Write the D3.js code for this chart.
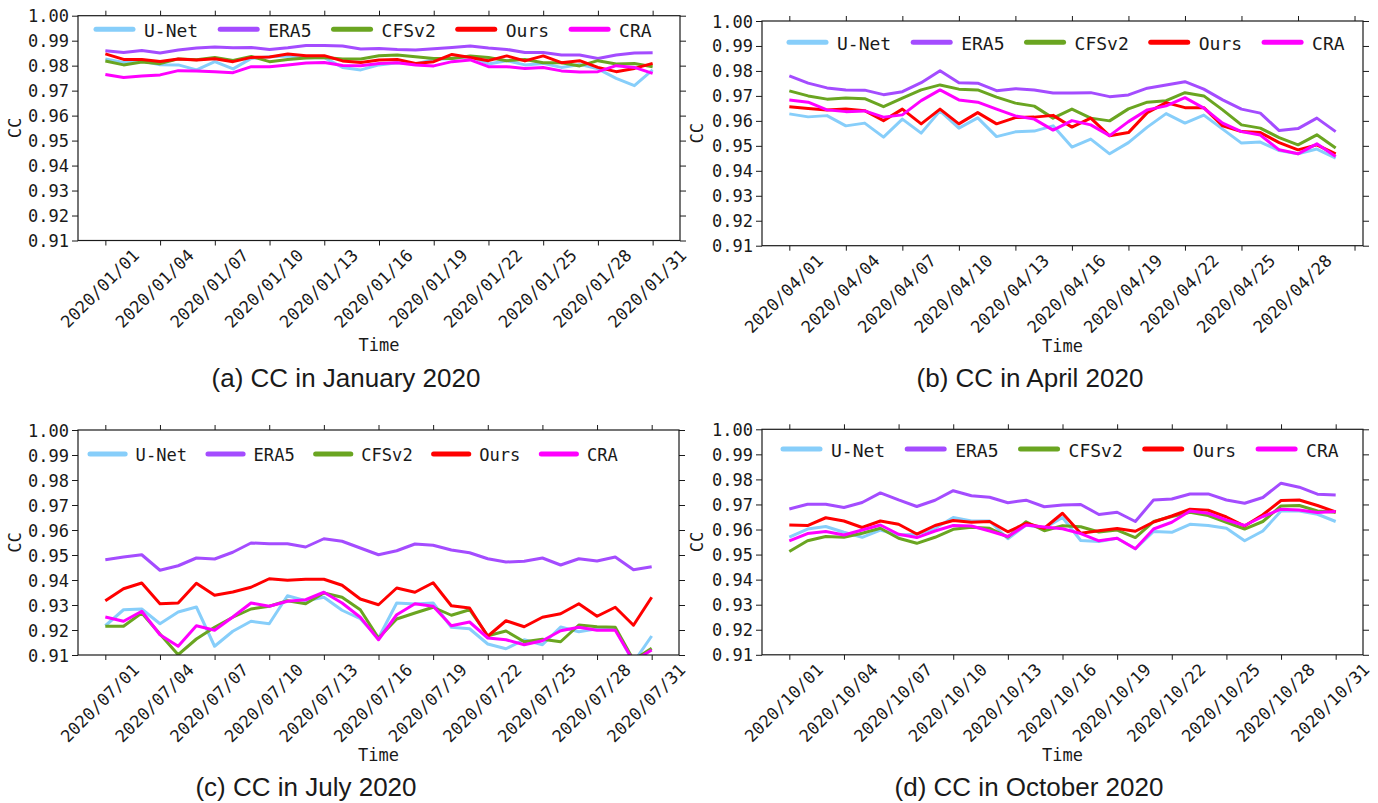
<!DOCTYPE html>
<html>
<head>
<meta charset="utf-8">
<script src="https://cdn.jsdelivr.net/npm/d3@7"></script>
<style>
  body { margin: 0; background: #fff; }
  svg { display: block; }
</style>
</head>
<body>
<svg id="chart" width="1378" height="803"></svg>
<script>
// ---- series metadata ----
const seriesNames  = ["U-Net", "ERA5", "CFSv2", "Ours", "CRA"];
const seriesColors = ["#87cefa", "#a44cff", "#6aa521", "#ff0000", "#ff00ff"];

// ---- shared y ticks ----
const yTicks = [0.91, 0.92, 0.93, 0.94, 0.95, 0.96, 0.97, 0.98, 0.99, 1.00];

// ---- x tick labels ----
const janTicks = ["2020/01/01","2020/01/04","2020/01/07","2020/01/10","2020/01/13","2020/01/16","2020/01/19","2020/01/22","2020/01/25","2020/01/28","2020/01/31"];
const aprTicks = ["2020/04/01","2020/04/04","2020/04/07","2020/04/10","2020/04/13","2020/04/16","2020/04/19","2020/04/22","2020/04/25","2020/04/28"];
const julTicks = ["2020/07/01","2020/07/04","2020/07/07","2020/07/10","2020/07/13","2020/07/16","2020/07/19","2020/07/22","2020/07/25","2020/07/28","2020/07/31"];
const octTicks = ["2020/10/01","2020/10/04","2020/10/07","2020/10/10","2020/10/13","2020/10/16","2020/10/19","2020/10/22","2020/10/25","2020/10/28","2020/10/31"];

// ---- January 2020 daily CC ----
const janUNet = [0.9827,0.9813,0.9819,0.9804,0.9803,0.9783,0.9816,0.9787,0.9829,0.9836,0.9839,0.9832,0.9832,0.9793,0.9783,0.9803,0.9812,0.9807,0.9825,0.9829,0.9836,0.9807,0.9820,0.9803,0.9809,0.9793,0.9805,0.9787,0.9749,0.9720,0.9783];
const janERA5 = [0.9860,0.9853,0.9861,0.9851,0.9863,0.9871,0.9875,0.9872,0.9873,0.9865,0.9872,0.9881,0.9881,0.9879,0.9867,0.9869,0.9865,0.9863,0.9868,0.9873,0.9879,0.9871,0.9865,0.9853,0.9853,0.9843,0.9843,0.9829,0.9843,0.9851,0.9852];
const janCFSv2 = [0.9819,0.9803,0.9815,0.9808,0.9827,0.9824,0.9833,0.9821,0.9837,0.9816,0.9825,0.9831,0.9833,0.9827,0.9827,0.9840,0.9843,0.9836,0.9829,0.9829,0.9839,0.9833,0.9820,0.9825,0.9812,0.9812,0.9799,0.9820,0.9807,0.9809,0.9796];
const janOurs = [0.9847,0.9825,0.9825,0.9817,0.9827,0.9823,0.9828,0.9816,0.9833,0.9835,0.9847,0.9840,0.9840,0.9819,0.9813,0.9823,0.9825,0.9809,0.9816,0.9845,0.9833,0.9820,0.9839,0.9819,0.9839,0.9812,0.9820,0.9793,0.9776,0.9789,0.9809];
const janCRA = [0.9765,0.9753,0.9759,0.9763,0.9780,0.9779,0.9776,0.9772,0.9796,0.9796,0.9803,0.9811,0.9813,0.9801,0.9800,0.9809,0.9812,0.9803,0.9799,0.9816,0.9823,0.9796,0.9796,0.9789,0.9793,0.9779,0.9775,0.9776,0.9800,0.9793,0.9769];

// ---- April 2020 daily CC ----
const aprUNet = [0.9628,0.9616,0.9621,0.9580,0.9591,0.9535,0.9607,0.9551,0.9640,0.9571,0.9612,0.9537,0.9556,0.9559,0.9580,0.9495,0.9527,0.9468,0.9513,0.9575,0.9629,0.9591,0.9623,0.9567,0.9511,0.9515,0.9481,0.9468,0.9487,0.9451];
const aprERA5 = [0.9780,0.9751,0.9732,0.9724,0.9723,0.9705,0.9717,0.9753,0.9801,0.9753,0.9751,0.9721,0.9729,0.9724,0.9712,0.9712,0.9713,0.9697,0.9704,0.9731,0.9744,0.9757,0.9727,0.9684,0.9647,0.9631,0.9561,0.9569,0.9611,0.9557];
const aprCFSv2 = [0.9720,0.9700,0.9687,0.9692,0.9689,0.9657,0.9691,0.9724,0.9744,0.9727,0.9724,0.9695,0.9671,0.9659,0.9611,0.9647,0.9611,0.9600,0.9648,0.9675,0.9681,0.9713,0.9700,0.9644,0.9584,0.9571,0.9533,0.9504,0.9544,0.9491];
const aprOurs = [0.9657,0.9650,0.9644,0.9648,0.9641,0.9601,0.9647,0.9588,0.9647,0.9588,0.9633,0.9588,0.9613,0.9615,0.9622,0.9575,0.9611,0.9540,0.9553,0.9633,0.9673,0.9653,0.9653,0.9580,0.9557,0.9553,0.9513,0.9484,0.9504,0.9468];
const aprCRA = [0.9684,0.9675,0.9644,0.9637,0.9640,0.9615,0.9624,0.9681,0.9724,0.9684,0.9675,0.9647,0.9620,0.9607,0.9563,0.9601,0.9584,0.9541,0.9597,0.9644,0.9660,0.9693,0.9651,0.9591,0.9557,0.9543,0.9484,0.9468,0.9508,0.9457];

// ---- July 2020 daily CC ----
const julUNet = [0.9217,0.9281,0.9284,0.9225,0.9272,0.9292,0.9135,0.9195,0.9235,0.9225,0.9337,0.9317,0.9331,0.9279,0.9245,0.9168,0.9308,0.9304,0.9308,0.9211,0.9205,0.9144,0.9125,0.9161,0.9141,0.9212,0.9193,0.9205,0.9205,0.9070,0.9176];
const julERA5 = [0.9481,0.9492,0.9501,0.9439,0.9457,0.9488,0.9484,0.9511,0.9548,0.9545,0.9545,0.9532,0.9565,0.9555,0.9528,0.9501,0.9517,0.9544,0.9539,0.9520,0.9509,0.9485,0.9472,0.9475,0.9488,0.9460,0.9485,0.9476,0.9492,0.9441,0.9453];
const julCFSv2 = [0.9215,0.9215,0.9268,0.9184,0.9101,0.9164,0.9211,0.9251,0.9284,0.9295,0.9317,0.9305,0.9348,0.9331,0.9281,0.9168,0.9244,0.9268,0.9291,0.9259,0.9281,0.9177,0.9196,0.9153,0.9163,0.9153,0.9220,0.9213,0.9211,0.9080,0.9127];
const julOurs = [0.9317,0.9365,0.9388,0.9305,0.9308,0.9387,0.9339,0.9352,0.9371,0.9405,0.9399,0.9403,0.9403,0.9379,0.9324,0.9301,0.9368,0.9351,0.9389,0.9297,0.9288,0.9175,0.9237,0.9213,0.9251,0.9265,0.9305,0.9255,0.9291,0.9219,0.9331];
const julCRA = [0.9252,0.9235,0.9275,0.9181,0.9135,0.9217,0.9199,0.9252,0.9308,0.9295,0.9315,0.9321,0.9351,0.9308,0.9251,0.9161,0.9261,0.9305,0.9295,0.9217,0.9232,0.9168,0.9161,0.9141,0.9157,0.9197,0.9211,0.9199,0.9199,0.9075,0.9120];

// ---- October 2020 daily CC ----
const octUNet = [0.9570,0.9602,0.9612,0.9589,0.9569,0.9598,0.9578,0.9581,0.9605,0.9648,0.9634,0.9634,0.9563,0.9618,0.9605,0.9648,0.9556,0.9552,0.9565,0.9523,0.9592,0.9589,0.9621,0.9616,0.9605,0.9555,0.9594,0.9674,0.9674,0.9661,0.9632];
const octERA5 = [0.9682,0.9701,0.9701,0.9688,0.9708,0.9746,0.9718,0.9692,0.9717,0.9755,0.9735,0.9729,0.9707,0.9717,0.9691,0.9698,0.9700,0.9660,0.9669,0.9632,0.9718,0.9722,0.9742,0.9742,0.9718,0.9705,0.9728,0.9785,0.9769,0.9741,0.9738];
const octCFSv2 = [0.9512,0.9555,0.9572,0.9569,0.9585,0.9605,0.9565,0.9545,0.9569,0.9601,0.9609,0.9605,0.9570,0.9631,0.9595,0.9615,0.9611,0.9590,0.9598,0.9568,0.9632,0.9652,0.9669,0.9656,0.9629,0.9602,0.9632,0.9694,0.9696,0.9674,0.9669];
const octOurs = [0.9618,0.9616,0.9647,0.9634,0.9608,0.9634,0.9621,0.9582,0.9616,0.9636,0.9629,0.9632,0.9591,0.9625,0.9605,0.9665,0.9585,0.9595,0.9604,0.9593,0.9630,0.9654,0.9681,0.9677,0.9650,0.9614,0.9659,0.9716,0.9718,0.9696,0.9670];
const octCRA = [0.9555,0.9584,0.9592,0.9578,0.9598,0.9618,0.9581,0.9568,0.9594,0.9616,0.9614,0.9594,0.9572,0.9618,0.9610,0.9603,0.9584,0.9555,0.9565,0.9523,0.9602,0.9629,0.9674,0.9665,0.9638,0.9616,0.9652,0.9681,0.9678,0.9668,0.9672];

// ---- panel layout ----
const panels = [
  { key: "jan", caption: "(a) CC in January 2020", ticks: janTicks, extraTicks: [],
    data: [janUNet, janERA5, janCFSv2, janOurs, janCRA],
    left: 78, right: 680, top: 15.7, bottom: 240.5,
    legX: 96, legY: 29.3, legScale: 1, ccX: 15, timeY: 345, capX: 346, capY: 378 },
  { key: "apr", caption: "(b) CC in April 2020", ticks: aprTicks, extraTicks: [31],
    data: [aprUNet, aprERA5, aprCFSv2, aprOurs, aprCRA],
    left: 762, right: 1363, top: 21, bottom: 245.7,
    legX: 789, legY: 42.3, legScale: 1, ccX: 697, timeY: 346, capX: 1030, capY: 378 },
  { key: "jul", caption: "(c) CC in July 2020", ticks: julTicks, extraTicks: [],
    data: [julUNet, julERA5, julCFSv2, julOurs, julCRA],
    left: 78, right: 679, top: 430, bottom: 655,
    legX: 90, legY: 454, legScale: 0.95, ccX: 15, timeY: 755, capX: 306, capY: 787 },
  { key: "oct", caption: "(d) CC in October 2020", ticks: octTicks, extraTicks: [],
    data: [octUNet, octERA5, octCFSv2, octOurs, octCRA],
    left: 762, right: 1363, top: 429.3, bottom: 654.8,
    legX: 783, legY: 449, legScale: 1, ccX: 697, timeY: 755, capX: 1029, capY: 787 }
];

const monoFont = "'DejaVu Sans Mono', monospace";
const capFont = "'Liberation Sans', Arial, sans-serif";
const ink = "#1a1a1a";

const svg = d3.select("#chart");
svg.append("rect").attr("width", 1378).attr("height", 803).attr("fill", "#fff");

const dayOf = s => +s.slice(8, 10);

panels.forEach(p => {
  const n = p.data[0].length;
  const pad = (n - 1) * 0.05;
  const x = d3.scaleLinear().domain([1 - pad, n + pad]).range([p.left, p.right]);
  const y = d3.scaleLinear().domain([0.91, 1.00]).range([p.bottom, p.top]);
  const g = svg.append("g").attr("class", "panel-" + p.key);

  const tickDays = p.ticks.map(dayOf).concat(p.extraTicks);
  const labelOf = new Map(p.ticks.map(t => [dayOf(t), t]));

  // clip region for the series
  const clipId = "clip-" + p.key;
  g.append("clipPath").attr("id", clipId)
    .append("rect").attr("x", p.left).attr("y", p.top)
    .attr("width", p.right - p.left).attr("height", p.bottom - p.top);

  // series lines
  const line = d3.line().x((d, i) => x(i + 1)).y(d => y(d));
  const lines = g.append("g").attr("clip-path", `url(#${clipId})`);
  p.data.forEach((vals, k) => {
    lines.append("path").datum(vals)
      .attr("d", line)
      .attr("fill", "none")
      .attr("stroke", seriesColors[k])
      .attr("stroke-width", 3)
      .attr("stroke-linejoin", "round");
  });

  // bottom axis with rotated date labels
  const bottomAxis = d3.axisBottom(x).tickValues(tickDays)
    .tickSize(5).tickSizeOuter(0)
    .tickFormat(d => labelOf.get(d) || "");
  const gb = g.append("g").attr("transform", `translate(0,${p.bottom})`).call(bottomAxis);
  gb.selectAll("text")
    .attr("y", null).attr("dy", null)
    .attr("text-anchor", "middle")
    .attr("dominant-baseline", "central")
    .attr("transform", "translate(-6,48) rotate(-45)")
    .attr("font-family", monoFont).attr("font-size", 17).attr("fill", ink);

  // top axis (ticks only)
  const gt = g.append("g").attr("transform", `translate(0,${p.top})`)
    .call(d3.axisTop(x).tickValues(tickDays).tickSize(5).tickSizeOuter(0).tickFormat(""));

  // left axis
  const gl = g.append("g").attr("transform", `translate(${p.left},0)`)
    .call(d3.axisLeft(y).tickValues(yTicks).tickSize(6).tickPadding(3)
      .tickSizeOuter(0).tickFormat(d3.format(".2f")));
  gl.selectAll("text").attr("font-family", monoFont).attr("font-size", 17).attr("fill", ink)
    .attr("dy", null).attr("dominant-baseline", "central");

  // right axis (ticks only)
  const gr = g.append("g").attr("transform", `translate(${p.right},0)`)
    .call(d3.axisRight(y).tickValues(yTicks).tickSize(6).tickSizeOuter(0).tickFormat(""));

  [gb, gt, gl, gr].forEach(a => {
    a.select(".domain").remove();
    a.selectAll(".tick line").attr("stroke", ink).attr("stroke-width", 1);
  });

  // frame
  g.append("rect")
    .attr("x", p.left).attr("y", p.top)
    .attr("width", p.right - p.left).attr("height", p.bottom - p.top)
    .attr("fill", "none").attr("stroke", ink).attr("stroke-width", 1.2);

  // legend
  const s = p.legScale;
  const legend = g.append("g").attr("class", "legend");
  let cx = p.legX;
  seriesNames.forEach((name, k) => {
    legend.append("line")
      .attr("x1", cx).attr("x2", cx + 37 * s)
      .attr("y1", p.legY).attr("y2", p.legY)
      .attr("stroke", seriesColors[k]).attr("stroke-width", 5)
      .attr("stroke-linecap", "round");
    const t = legend.append("text")
      .attr("x", cx + 48 * s).attr("y", p.legY + 1)
      .attr("dominant-baseline", "central")
      .attr("font-family", monoFont).attr("font-size", 18 * s).attr("fill", ink)
      .text(name);
    cx = cx + 48 * s + t.node().getComputedTextLength() + 22 * s;
  });

  // axis titles
  g.append("text")
    .attr("transform", `translate(${p.ccX},${(p.top + p.bottom) / 2}) rotate(-90)`)
    .attr("text-anchor", "middle").attr("dominant-baseline", "central")
    .attr("font-family", monoFont).attr("font-size", 17).attr("fill", ink)
    .text("CC");
  g.append("text")
    .attr("x", (p.left + p.right) / 2).attr("y", p.timeY)
    .attr("text-anchor", "middle").attr("dominant-baseline", "central")
    .attr("font-family", monoFont).attr("font-size", 17).attr("fill", ink)
    .text("Time");

  // caption
  g.append("text")
    .attr("x", p.capX).attr("y", p.capY)
    .attr("text-anchor", "middle").attr("dominant-baseline", "central")
    .attr("font-family", capFont).attr("font-size", 26).attr("fill", ink)
    .text(p.caption);
});
</script>
</body>
</html>
